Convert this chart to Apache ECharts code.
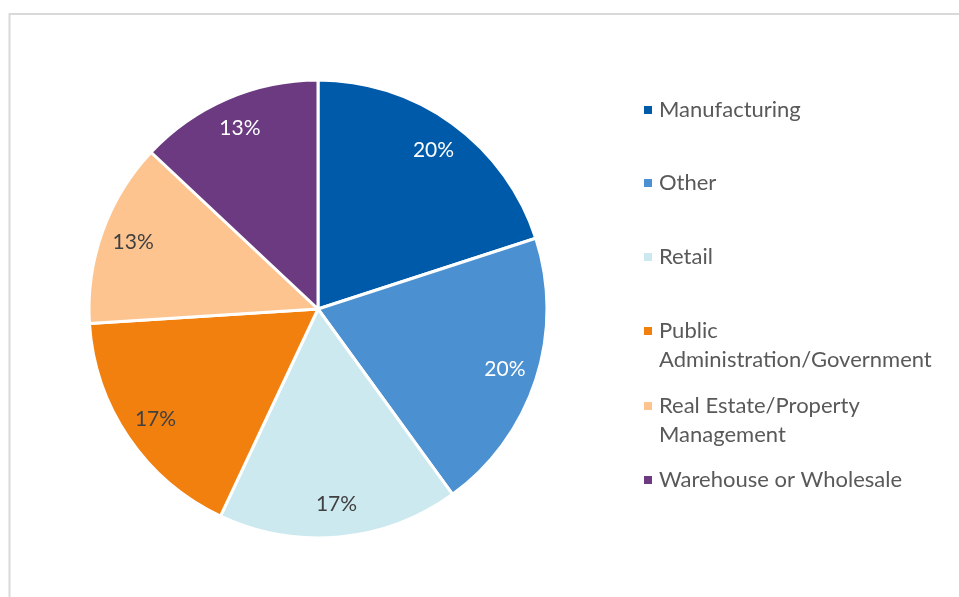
<!DOCTYPE html>
<html>
<head>
<meta charset="utf-8">
<title>Industry share</title>
<script src="https://cdn.jsdelivr.net/npm/echarts@6/dist/echarts.min.js"></script>
<style>
  html, body { margin: 0; padding: 0; background: #fff; }
  #main { width: 959px; height: 597px; }
</style>
</head>
<body>
<div id="main"></div>
<script>
// chart data
const categories = [
  'Manufacturing',
  'Other',
  'Retail',
  'Public Administration/Government',
  'Real Estate/Property Management',
  'Warehouse or Wholesale'
]
const shares = [20, 20, 17, 17, 13, 13]
// legend text as it wraps in the picture
const legendText = [
  'Manufacturing',
  'Other',
  'Retail',
  'Public\nAdministration/Government',
  'Real Estate/Property\nManagement',
  'Warehouse or Wholesale'
]

const colors = ['#005aaa', '#4b90d0', '#cde9f0', '#f2800f', '#fdc48f', '#6b3a80']
const labelColors = ['#ffffff', '#ffffff', '#404040', '#404040', '#404040', '#ffffff']
const legendTops = [95.5, 168.5, 242.5, 287.5, 362.5, 465.5]

const chart = echarts.init(document.getElementById('main'))

const legends = categories.map((name, i) => {
  const twoLines = legendText[i].indexOf('\n') >= 0
  return {
    data: [name],
    orient: 'vertical',
    left: 642,
    top: legendTops[i],
    padding: 0,
    icon: 'rect',
    itemWidth: 10,
    itemHeight: 10,
    selectedMode: false,
    // an empty first line keeps the square level with the first text line
    formatter: () => (twoLines ? '\n' : '') + legendText[i],
    textStyle: {
      color: '#595959',
      fontFamily: 'Lato',
      fontSize: 22,
      lineHeight: 29,
      padding: [0, 0, 0, 1]
    }
  }
})

const option = {
  backgroundColor: '#ffffff',
  animation: false,
  graphic: [
    {
      type: 'rect',
      z: -10,
      silent: true,
      shape: { x: 9.5, y: 14, width: 1000, height: 700 },
      style: { fill: '#ffffff', stroke: '#d9d9d9', lineWidth: 2 }
    }
  ],
  legend: legends,
  series: [
    {
      type: 'pie',
      center: [318, 309],
      radius: [0, 229],
      startAngle: 90,
      clockwise: true,
      silent: true,
      label: { show: false },
      labelLine: { show: false },
      itemStyle: { borderColor: '#ffffff', borderWidth: 3 },
      data: categories.map((name, i) => ({
        name: name,
        value: shares[i],
        itemStyle: { color: colors[i] }
      }))
    },
    {
      // ring only used to place the percent labels near the rim
      type: 'pie',
      center: [318, 309],
      radius: [158, 229],
      startAngle: 90,
      clockwise: true,
      silent: true,
      itemStyle: { color: 'transparent', borderWidth: 0 },
      labelLine: { show: false },
      label: {
        show: true,
        position: 'inside',
        formatter: '{c}%',
        fontFamily: 'Lato',
        fontSize: 21
      },
      data: shares.map((v, i) => ({
        value: v,
        label: { color: labelColors[i] }
      }))
    }
  ]
}

chart.setOption(option)
</script>
</body>
</html>
